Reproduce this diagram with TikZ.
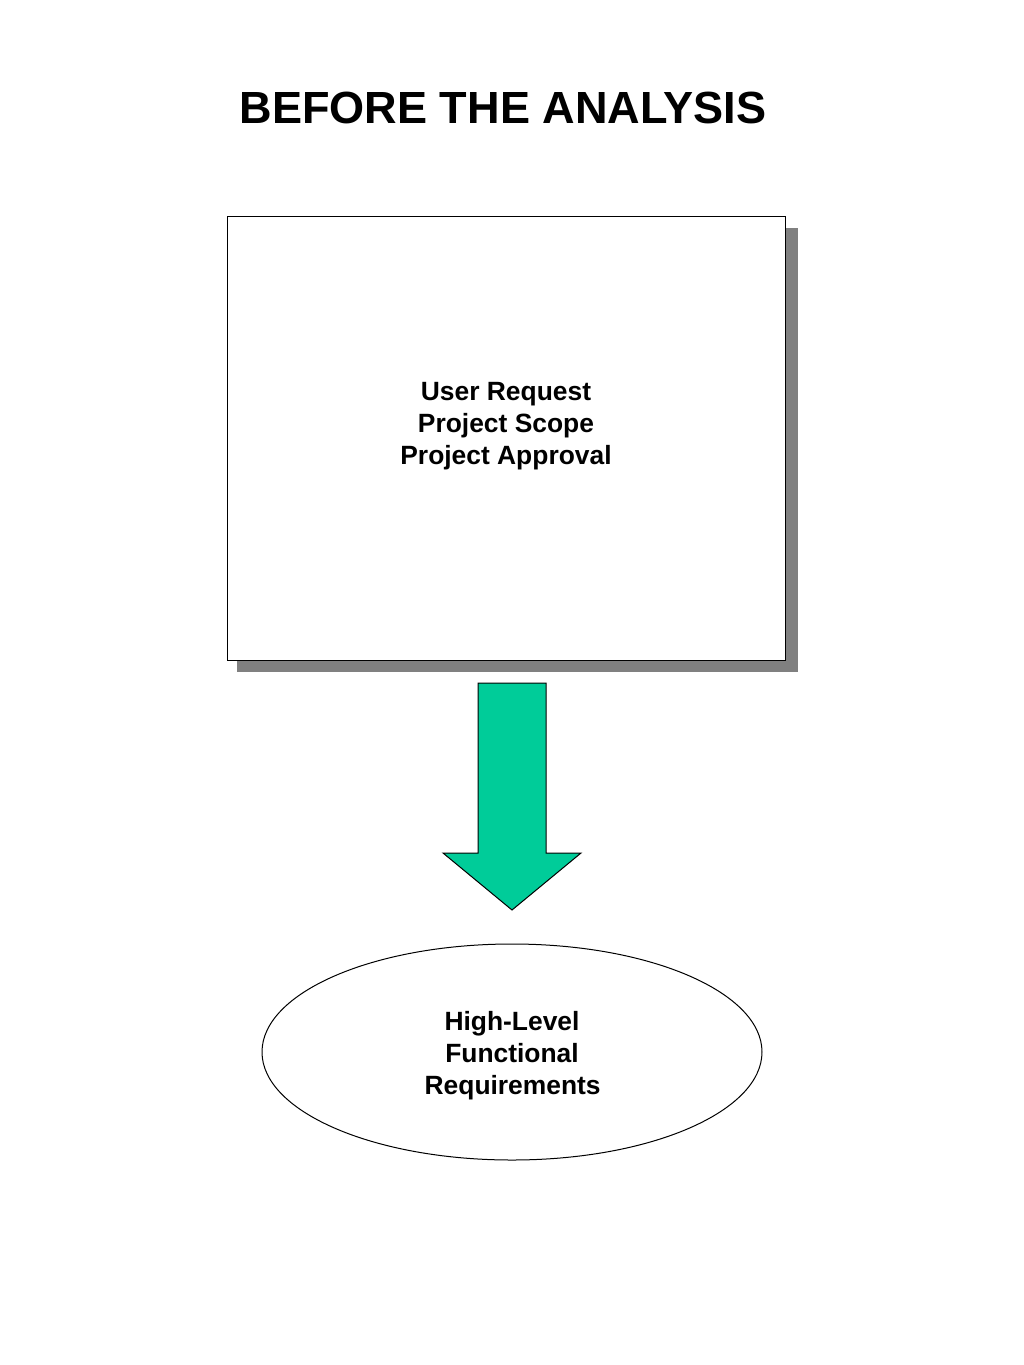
\documentclass[tikz,border=0pt]{standalone}
\usepackage{fontspec}
\setmainfont{Liberation Sans}
\definecolor{arrowgreen}{RGB}{0,204,153}
\definecolor{shadowgray}{RGB}{128,128,128}
\begin{document}
\begin{tikzpicture}[x=0.75pt,y=0.75pt,yscale=-1,xscale=1]
\useasboundingbox (0,0) rectangle (1024,1365);
% Text Node
\node (title) at (503,108) [inner sep=0.75pt, font=\fontsize{33.8}{40}\selectfont\bfseries] {BEFORE THE ANALYSIS};
%Shape: Rectangle (shadow)
\fill [shadowgray] (237,228) -- (798,228) -- (798,672) -- (237,672) -- cycle ;
%Shape: Rectangle
\draw [fill=white, line width=0.75pt] (227,216) -- (785,216) -- (785,660) -- (227,660) -- cycle ;
% Text Node
\node (inputs) at (506,426) [inner sep=0.75pt, align=center, font=\fontsize{19.8}{24}\selectfont\bfseries] {User Request\\Project Scope\\Project Approval};
%Shape: Down Arrow
\draw [fill=arrowgreen, line width=0.75pt] (478,683) -- (546,683) -- (546,853) -- (581,853) -- (512,910) -- (443,853) -- (478,853) -- cycle ;
%Shape: Ellipse
\draw [line width=0.75pt] (512,1052) ellipse [x radius=250, y radius=108] ;
% Text Node
\node (output) at (512,1056) [inner sep=0.75pt, align=center, font=\fontsize{19.8}{24}\selectfont\bfseries] {High-Level\\Functional\hspace*{0.35em}\\\hspace*{0.05em}Requirements};
\end{tikzpicture}
\end{document}
